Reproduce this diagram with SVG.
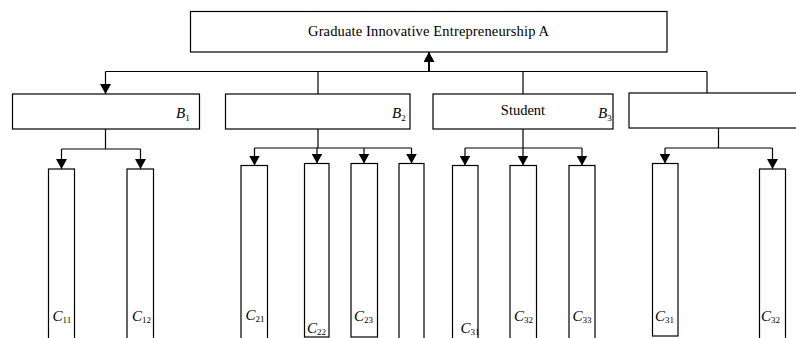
<svg xmlns="http://www.w3.org/2000/svg" width="796" height="338" viewBox="0 0 796 338">
<defs>
<style>
.box{fill:#fff;stroke:#000;stroke-width:1.2}
.ln{fill:none;stroke:#000;stroke-width:1.2}
text{font-family:"Liberation Serif","DejaVu Serif","Times New Roman",serif;fill:#000}
.t{font-size:14.5px}
.v{font-size:15px;font-style:italic}
.s{font-size:9px;font-style:normal}
</style>
<marker id="ah" markerUnits="userSpaceOnUse" markerWidth="11" markerHeight="11" refX="10" refY="5.5" orient="auto">
<path d="M0,0 L10,5.5 L0,11 z" fill="#000"/>
</marker>
</defs>
<rect width="796" height="338" fill="#fff"/>
<g id="connectors">
<path class="ln" d="M105.5,71.5 H707"/>
<path class="ln" d="M429,71.5 V52" style="stroke-width:2" marker-end="url(#ah)"/>
<path class="ln" d="M105.5,71.5 V94" marker-end="url(#ah)"/>
<path class="ln" d="M318,71.5 V94"/>
<path class="ln" d="M523,71.5 V94"/>
<path class="ln" d="M707,71.5 V93"/>
<path class="ln" d="M105.5,129 V149 M61.5,149 H140.5"/>
<path class="ln" d="M61.5,149 V169" marker-end="url(#ah)"/>
<path class="ln" d="M140.5,149 V169" marker-end="url(#ah)"/>
<path class="ln" d="M318,129 V148 M254.5,148 H411.5"/>
<path class="ln" d="M254.5,148 V165.5" marker-end="url(#ah)"/>
<path class="ln" d="M317,148 V163.5" marker-end="url(#ah)"/>
<path class="ln" d="M364,148 V163.5" marker-end="url(#ah)"/>
<path class="ln" d="M411.5,148 V163.5" marker-end="url(#ah)"/>
<path class="ln" d="M523,129 V148 M465,148 H582"/>
<path class="ln" d="M465,148 V165.5" marker-end="url(#ah)"/>
<path class="ln" d="M523,148 V165.5" marker-end="url(#ah)"/>
<path class="ln" d="M582,148 V165.5" marker-end="url(#ah)"/>
<path class="ln" d="M718.5,128 V148 M665,148 H772.5"/>
<path class="ln" d="M665,148 V163.5" marker-end="url(#ah)"/>
<path class="ln" d="M772.5,148 V169" marker-end="url(#ah)"/>
</g>
<g id="A">
<rect class="box" x="190.5" y="11.5" width="476.5" height="40.5"/>
<text class="t" x="308" y="36" textLength="241" lengthAdjust="spacing">Graduate Innovative Entrepreneurship A</text>
</g>
<g id="B1">
<rect class="box" x="12.5" y="94" width="187" height="35"/>
<text class="v" x="176" y="118">B<tspan class="s" dy="2.5">1</tspan></text>
</g>
<g id="B2">
<rect class="box" x="225.5" y="94" width="184.5" height="35"/>
<text class="v" x="392" y="118">B<tspan class="s" dy="2.5">2</tspan></text>
</g>
<g id="B3">
<rect class="box" x="433" y="94" width="180" height="35"/>
<text class="t" x="523" y="115" text-anchor="middle">Student</text>
<text class="v" x="598" y="118">B<tspan class="s" dy="2.5">3</tspan></text>
</g>
<g id="B4">
<rect class="box" x="629" y="93" width="180" height="35"/>
</g>
<g id="C11">
<rect class="box" x="48.5" y="169" width="26" height="180"/>
<text class="v" x="52.5" y="321">C<tspan class="s" dy="2">11</tspan></text>
</g>
<g id="C12">
<rect class="box" x="127" y="169" width="26.5" height="180"/>
<text class="v" x="132" y="321">C<tspan class="s" dy="2">12</tspan></text>
</g>
<g id="C21">
<rect class="box" x="241" y="165.5" width="26.5" height="180"/>
<text class="v" x="245.5" y="319.5">C<tspan class="s" dy="2">21</tspan></text>
</g>
<g id="C22">
<rect class="box" x="304.5" y="163.5" width="24.5" height="173.5"/>
<text class="v" x="307" y="333">C<tspan class="s" dy="2">22</tspan></text>
</g>
<g id="C23">
<rect class="box" x="351" y="163.5" width="26.5" height="173.5"/>
<text class="v" x="354" y="321">C<tspan class="s" dy="2">23</tspan></text>
</g>
<g id="C24">
<rect class="box" x="399" y="163.5" width="25" height="180"/>
</g>
<g id="C31">
<rect class="box" x="452.5" y="165.5" width="25.5" height="180"/>
<text class="v" x="460.5" y="332.5">C<tspan class="s" dy="2">31</tspan></text>
</g>
<g id="C32">
<rect class="box" x="510" y="165.5" width="26.5" height="180"/>
<text class="v" x="514" y="320.5">C<tspan class="s" dy="2">32</tspan></text>
</g>
<g id="C33">
<rect class="box" x="569" y="165.5" width="26" height="180"/>
<text class="v" x="572.5" y="320.5">C<tspan class="s" dy="2">33</tspan></text>
</g>
<g id="C41">
<rect class="box" x="652.5" y="163.5" width="25.5" height="172.5"/>
<text class="v" x="655" y="321">C<tspan class="s" dy="2">31</tspan></text>
</g>
<g id="C42">
<rect class="box" x="759.5" y="169" width="26" height="180"/>
<text class="v" x="761" y="321">C<tspan class="s" dy="2">32</tspan></text>
</g>
</svg>
